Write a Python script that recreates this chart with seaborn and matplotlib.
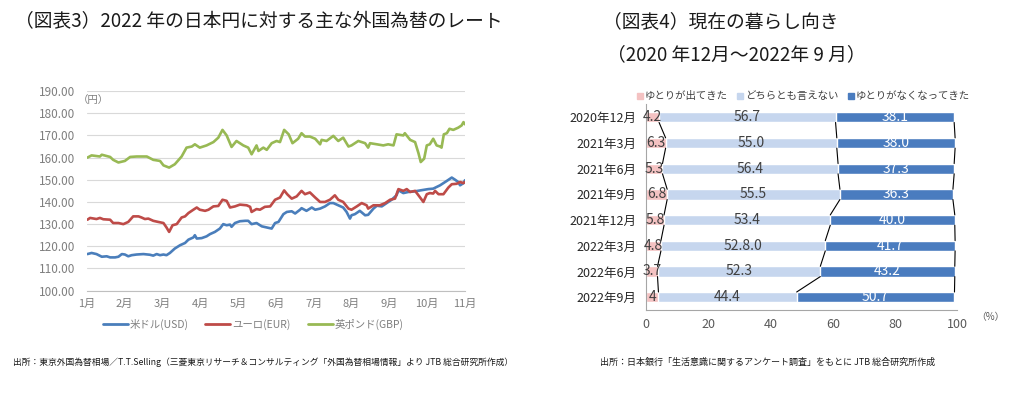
import numpy as np
import pandas as pd
import matplotlib
matplotlib.use("Agg")
import matplotlib.pyplot as plt
from matplotlib.lines import Line2D
import seaborn as sns

# ---- left chart: JPY rates in 2022 (x = months since 1 Jan) ----
usd_month = [0.02, 0.13, 0.26, 0.40, 0.53, 0.62, 0.75, 0.84, 0.93, 1.01, 1.10, 1.19, 1.32, 1.50, 1.67,
             1.76, 1.85, 1.94, 2.03, 2.11, 2.20, 2.33, 2.47, 2.60, 2.69, 2.82, 2.86, 2.91, 3.04, 3.17,
             3.26, 3.39, 3.52, 3.61, 3.70, 3.79, 3.83, 3.92, 4.05, 4.19, 4.27, 4.36, 4.49, 4.63, 4.76,
             4.89, 4.98, 5.07, 5.20, 5.29, 5.42, 5.51, 5.64, 5.68, 5.81, 5.95, 6.04, 6.17, 6.30, 6.43,
             6.52, 6.65, 6.78, 6.87, 6.96, 7.00, 7.09, 7.22, 7.36, 7.44, 7.58, 7.67, 7.80, 7.93, 8.06,
             8.19, 8.24, 8.37, 8.50, 8.68, 8.85, 9.03, 9.16, 9.34, 9.52, 9.65, 9.74, 9.82, 9.87, 9.96, 10.0]
usd_rate = [116.5, 117, 116.5, 115.3, 115.5, 115, 115, 115.3, 116.5, 116.3, 115.5, 116, 116.3, 116.5, 116.2,
            115.8, 116.5, 116, 116.3, 116, 117, 119, 120.5, 121.5, 123, 124, 125, 123.5, 123.7, 124.5,
            125.5, 126.5, 128, 130, 129.5, 129.8, 128.8, 130.5, 131.3, 131.5, 131.5, 130, 130.5, 129, 128.5,
            128, 130.5, 131, 134.5, 135.5, 135.8, 134.8, 136.5, 137.2, 136, 137.5, 136.5, 137, 138, 139.5,
            139.5, 138.5, 137.5, 135.5, 132.5, 134, 134.5, 136, 134, 134.2, 137, 138.3, 138, 139.5, 141,
            143, 145.3, 144, 144.5, 144.8, 145.3, 145.8, 146, 147.5, 149.5, 151, 150, 149, 147.5, 148.5, 149.8]

eur_month = [0.02, 0.09, 0.26, 0.35, 0.44, 0.62, 0.70, 0.84, 0.97, 1.10, 1.23, 1.37, 1.45, 1.54, 1.63,
             1.76, 1.89, 2.03, 2.11, 2.18, 2.27, 2.38, 2.51, 2.60, 2.69, 2.82, 2.91, 2.99, 3.13, 3.22,
             3.35, 3.48, 3.59, 3.70, 3.79, 3.92, 4.05, 4.23, 4.32, 4.36, 4.49, 4.58, 4.71, 4.85, 4.98,
             5.11, 5.22, 5.30, 5.42, 5.55, 5.68, 5.77, 5.90, 6.04, 6.17, 6.30, 6.43, 6.56, 6.65, 6.78,
             6.92, 7.00, 7.14, 7.27, 7.40, 7.44, 7.58, 7.75, 7.89, 8.02, 8.15, 8.24, 8.37, 8.46, 8.55,
             8.68, 8.77, 8.90, 8.99, 9.07, 9.16, 9.21, 9.30, 9.43, 9.56, 9.65, 9.78, 9.87, 9.96, 10.0]
eur_rate = [132, 132.8, 132.3, 132.8, 132.2, 132, 130.5, 130.5, 130, 131, 133.5, 133.5, 133, 132.3, 132.5,
            131.5, 131, 130.5, 128.5, 126.5, 129.5, 130, 133, 133.5, 135, 136.5, 137.5, 136.5, 136, 136.5,
            138, 138.2, 141, 140.5, 137.5, 138, 138.8, 138.5, 137.8, 135.5, 136.8, 136.5, 137.8, 138, 141,
            142, 145.2, 143.5, 141.5, 142.5, 145, 143.5, 144.3, 142, 140, 140, 141, 143, 141, 140,
            137, 136.5, 138, 139.5, 138.5, 137, 138.5, 138.5, 139.5, 141, 141.5, 145.8, 145, 145.8, 144.5,
            145, 143, 140, 143.5, 144, 143.8, 145, 143.5, 143.5, 146.5, 148, 148.2, 149, 148.5, 149]

gbp_month = [0.02, 0.13, 0.35, 0.40, 0.62, 0.70, 0.84, 1.01, 1.15, 1.32, 1.59, 1.76, 1.94, 2.03, 2.18,
             2.33, 2.51, 2.64, 2.78, 2.86, 2.99, 3.17, 3.35, 3.48, 3.59, 3.70, 3.83, 3.96, 4.14, 4.27,
             4.36, 4.49, 4.54, 4.67, 4.76, 4.89, 5.02, 5.11, 5.22, 5.34, 5.44, 5.59, 5.68, 5.77, 5.90,
             6.04, 6.17, 6.21, 6.34, 6.52, 6.65, 6.78, 6.92, 7.00, 7.18, 7.36, 7.44, 7.49, 7.67, 7.84,
             7.97, 8.11, 8.19, 8.37, 8.41, 8.55, 8.68, 8.77, 8.83, 8.92, 8.99, 9.07, 9.16, 9.25, 9.34,
             9.38, 9.44, 9.52, 9.59, 9.69, 9.82, 9.91, 9.96, 10.0]
gbp_rate = [160, 161, 160.5, 161.3, 160.3, 159, 157.8, 158.5, 160.3, 160.5, 160.5, 159, 158.5, 156.5, 155.5,
            157, 160.5, 164.5, 165, 166, 164.5, 165.5, 167, 169, 172.5, 170, 164.8, 167.5, 165.5, 164.5,
            161.5, 165.5, 163, 164.5, 163.5, 166.5, 167.5, 167, 172.5, 170.5, 166.5, 168.5, 171, 169.5, 169.5,
            168.5, 166, 168, 167.5, 169.8, 167.5, 169, 165, 165.5, 167.5, 166.5, 164.5, 166.5, 166, 165.5,
            166, 165.5, 170.5, 170, 171, 168, 167, 162, 158, 159.5, 165.5, 166, 168.5, 165.5, 165,
            164.5, 170.5, 171, 173, 172.5, 173.5, 174.5, 176, 175]

series_names = ["米ドル(USD)", "ユーロ(EUR)", "英ポンド(GBP)"]
series_colors = ["#4A7EBB", "#BE4B48", "#98B954"]
month_labels = [f"{m}月" for m in range(1, 12)]
yen_ticks = np.arange(100, 191, 10)

# ---- right chart: household living conditions survey ----
periods = ["2020年12月", "2021年3月", "2021年6月", "2021年9月",
           "2021年12月", "2022年3月", "2022年6月", "2022年9月"]
better = [4.2, 6.3, 5.3, 6.8, 5.8, 4.8, 3.7, 4.0]
neutral = [56.7, 55.0, 56.4, 55.5, 53.4, 52.8, 52.3, 44.4]
worse = [38.1, 38.0, 37.3, 36.3, 40.0, 41.7, 43.2, 50.7]
better_lbl = ["4.2", "6.3", "5.3", "6.8", "5.8", "4.8", "3.7", "4"]
neutral_lbl = ["56.7", "55.0", "56.4", "55.5", "53.4", "52.8.0", "52.3", "44.4"]
worse_lbl = ["38.1", "38.0", "37.3", "36.3", "40.0", "41.7", "43.2", "50.7"]
answer_names = ["ゆとりが出てきた", "どちらとも言えない", "ゆとりがなくなってきた"]
answer_colors = ["#F4C2C2", "#C6D6EE", "#4A7CBF"]

sns.set_style("white")
plt.rcParams["font.family"] = ["Noto Sans CJK JP", "DejaVu Sans"]

fig = plt.figure(figsize=(10.10, 3.96), dpi=100)

# ================= left: line chart =================
ax1 = fig.add_axes([0.0858, 0.266, 0.3746, 0.504])
frames = []
for name, m, r in zip(series_names, [usd_month, eur_month, gbp_month], [usd_rate, eur_rate, gbp_rate]):
    frames.append(pd.DataFrame({"month": m, "rate": r, "series": name}))
rates = pd.concat(frames, ignore_index=True)

sns.lineplot(data=rates, x="month", y="rate", hue="series", hue_order=series_names,
             palette=series_colors, estimator=None, linewidth=1.9, legend=False, ax=ax1)

ax1.set_xlim(0, 10)
ax1.set_ylim(100, 190)
ax1.set_yticks(yen_ticks)
ax1.set_yticklabels([f"{v:.2f}" for v in yen_ticks])
ax1.set_xticks(range(11))
ax1.set_xticklabels(month_labels)
ax1.set_xlabel("")
ax1.set_ylabel("")
ax1.grid(axis="y", color="#D9D9D9", linewidth=0.8)
ax1.grid(axis="x", visible=False)
for s in ["top", "right", "left"]:
    ax1.spines[s].set_visible(False)
ax1.spines["bottom"].set_color("#BFBFBF")
ax1.tick_params(axis="y", length=0, pad=8, labelsize=8.5, labelcolor="#7F7F7F")
ax1.tick_params(axis="x", length=3, color="#BFBFBF", pad=3, labelsize=8, labelcolor="#7F7F7F")
ax1.text(-0.024, 186, "（円）", transform=ax1.get_yaxis_transform(), ha="left", va="center",
         fontsize=7.5, color="#7F7F7F")

handles = [Line2D([], [], color=c, linewidth=2) for c in series_colors]
ax1.legend(handles, series_names, loc="center", bbox_to_anchor=(0.44, -0.167), ncol=3,
           frameon=False, fontsize=7.5, labelcolor="#7F7F7F", handlelength=2.4,
           handletextpad=0.2, columnspacing=1.6)

# ================= right: stacked bars =================
ax2 = fig.add_axes([0.6396, 0.2172, 0.3082, 0.519])
survey = pd.DataFrame({"period": periods, "better": better, "neutral": neutral, "worse": worse})
survey["c1"] = survey["better"]
survey["c2"] = survey["better"] + survey["neutral"]
survey["c3"] = survey["c2"] + survey["worse"]

bar_h = 0.4
for col, color in zip(["c3", "c2", "c1"], answer_colors[::-1]):
    sns.barplot(data=survey, x=col, y="period", order=periods, color=color,
                width=bar_h, saturation=1, orient="h", ax=ax2)

# series lines between bars
for col in ["c1", "c2", "c3"]:
    vals = survey[col].to_numpy()
    for i in range(len(periods) - 1):
        ax2.plot([vals[i], vals[i + 1]], [i + bar_h / 2, i + 1 - bar_h / 2],
                 color="black", linewidth=0.8, zorder=3)

# data labels
for i in range(len(periods)):
    c1, c2, c3 = survey.loc[i, ["c1", "c2", "c3"]]
    ax2.text(c1 / 2, i, better_lbl[i], ha="center", va="center", fontsize=10, color="#404040")
    ax2.text((c1 + c2) / 2, i, neutral_lbl[i], ha="center", va="center", fontsize=10, color="#404040")
    ax2.text((c2 + c3) / 2, i, worse_lbl[i], ha="center", va="center", fontsize=10, color="white")

ax2.set_xlim(0, 100)
ax2.set_ylim(len(periods) - 0.5, -0.5)
ax2.set_xticks(range(0, 101, 20))
ax2.set_xlabel("")
ax2.set_ylabel("")
for s in ["top", "right"]:
    ax2.spines[s].set_visible(False)
ax2.spines["bottom"].set_color("#A6A6A6")
ax2.spines["left"].set_color("#A6A6A6")
ax2.tick_params(axis="x", length=3, color="#A6A6A6", pad=3, labelsize=9, labelcolor="#595959")
ax2.tick_params(axis="y", length=0, pad=7, labelsize=9, labelcolor="#262626")
ax2.text(1.06, -0.035, "（%）", transform=ax2.transAxes, ha="left", va="center",
         fontsize=7, color="#595959")

sq = [Line2D([], [], linestyle="none", marker="s", markersize=4.5, color=c) for c in answer_colors]
ax2.legend(sq, answer_names, loc="center", bbox_to_anchor=(0.505, 1.04), ncol=3, frameon=False,
           fontsize=7.5, labelcolor="#404040", handlelength=0.6, handletextpad=0.15,
           columnspacing=0.9)

# ================= titles and sources =================
fig.text(15 / 1010, 1 - 22 / 396, "（図表3）2022 年の日本円に対する主な外国為替のレート",
         ha="left", va="center", fontsize=13.5, color="#1A1A1A")
fig.text(603 / 1010, 1 - 22 / 396, "（図表4）現在の暮らし向き",
         ha="left", va="center", fontsize=13.5, color="#1A1A1A")
fig.text(607 / 1010, 1 - 55 / 396, "（2020 年12月～2022年 9 月）",
         ha="left", va="center", fontsize=13.5, color="#1A1A1A")
fig.text(13 / 1010, 1 - 362 / 396,
         "出所：東京外国為替相場／T.T.Selling（三菱東京リサーチ＆コンサルティング「外国為替相場情報」より JTB 総合研究所作成）",
         ha="left", va="center", fontsize=6.3, color="#1A1A1A")
fig.text(600 / 1010, 1 - 362 / 396,
         "出所：日本銀行「生活意識に関するアンケート調査」をもとに JTB 総合研究所作成",
         ha="left", va="center", fontsize=6.5, color="#1A1A1A")

fig.savefig("out.png", dpi=100)
